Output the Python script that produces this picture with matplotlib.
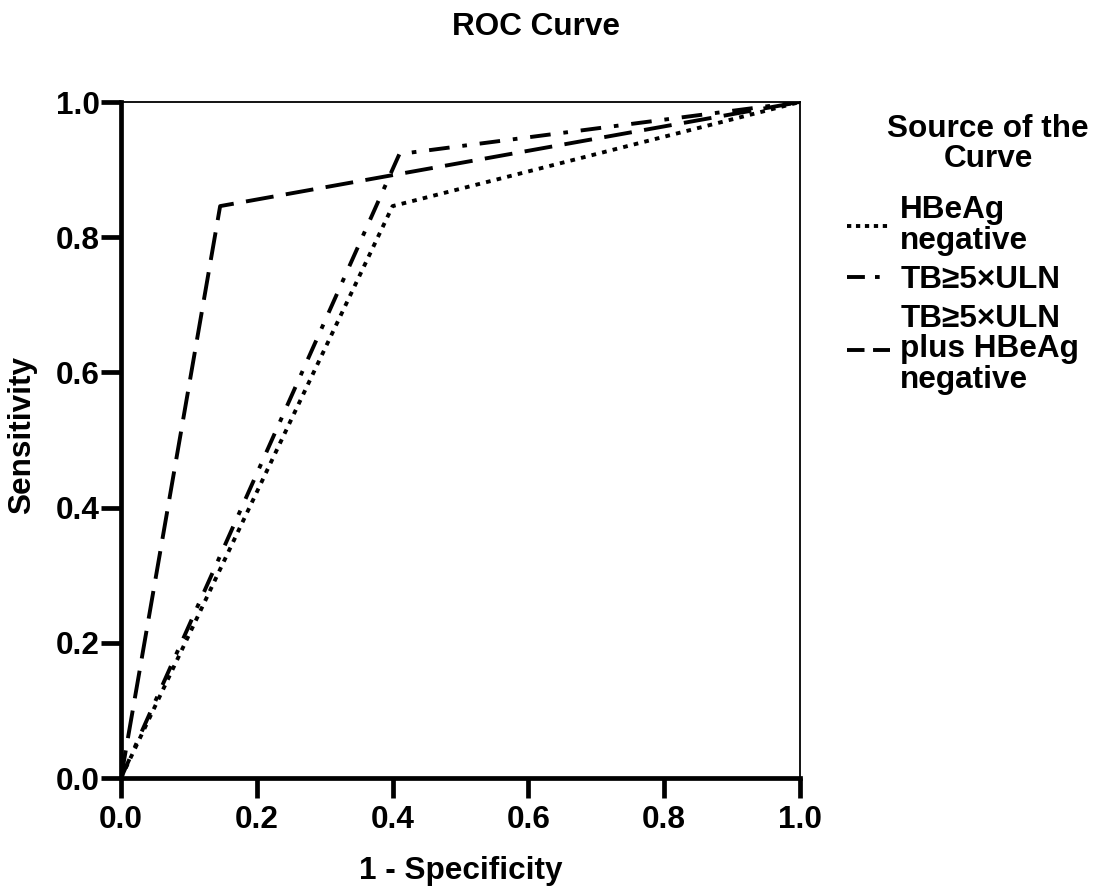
import matplotlib
matplotlib.use("Agg")
import matplotlib.pyplot as plt
from matplotlib.lines import Line2D

# Data
fpr_hbeag = [0.0, 0.400, 1.0]
tpr_hbeag = [0.0, 0.846, 1.0]
fpr_tb = [0.0, 0.410, 1.0]
tpr_tb = [0.0, 0.923, 1.0]
fpr_comb = [0.0, 0.146, 1.0]
tpr_comb = [0.0, 0.846, 1.0]
labels = ["HBeAg\nnegative", "TB\u22655\u00d7ULN", "TB\u22655\u00d7ULN\nplus HBeAg\nnegative"]
legend_title = "Source of the\nCurve"
ticks = [0.0, 0.2, 0.4, 0.6, 0.8, 1.0]
tick_labels = ["0.0", "0.2", "0.4", "0.6", "0.8", "1.0"]

plt.rcParams['font.family'] = ['Liberation Sans', 'DejaVu Sans']
FS = 22.7

fig = plt.figure(figsize=(11.06, 8.88), dpi=100)
ax = fig.add_axes([121/1106, 1-778/888, (800-121)/1106, (778-102)/888])

lw = 2.8
ax.plot(fpr_hbeag, tpr_hbeag, color='black', lw=lw, dashes=(1.2, 1.6),
        dash_capstyle='butt')
ax.plot(fpr_tb, tpr_tb, color='black', lw=lw, dashes=(5.3, 3.3, 1.2, 3.3),
        dash_capstyle='butt')
ax.plot(fpr_comb, tpr_comb, color='black', lw=lw, dashes=(7.2, 3.2),
        dash_capstyle='butt')

ax.set_xlim(0, 1)
ax.set_ylim(0, 1)
ax.set_xticks(ticks)
ax.set_xticklabels(tick_labels)
ax.set_yticks(ticks)
ax.set_yticklabels(tick_labels)

for s in ['left', 'bottom']:
    ax.spines[s].set_linewidth(3.4)
for s in ['top', 'right']:
    ax.spines[s].set_linewidth(1.3)

ax.tick_params(axis='both', direction='out', length=14.5, width=3.4, labelsize=FS)
ax.tick_params(axis='x', pad=5)
ax.tick_params(axis='y', pad=1)
for t in ax.get_xticklabels() + ax.get_yticklabels():
    t.set_fontweight('bold')

ax.set_xlabel("1 - Specificity", fontsize=FS, fontweight='bold', labelpad=15)
ax.set_ylabel("Sensitivity", fontsize=FS, fontweight='bold', labelpad=10)
ax.yaxis.set_label_coords(-0.123, 0.508)
fig.text(536/1106, 1-27/888, "ROC Curve", fontsize=FS, fontweight='bold',
         ha='center', va='center')

fig.text(988/1106, 1-114/888, legend_title, fontsize=FS, fontweight='bold',
         ha='center', va='top', multialignment='center', linespacing=0.98)

# legend proxy handles (short-handle versions of the curve styles)
h1 = Line2D([], [], color='black', lw=lw, dashes=(1.1, 1.2), dash_capstyle='butt')
h2 = Line2D([], [], color='black', lw=lw, dashes=(4.6, 2.6, 1.2, 3.0), dash_capstyle='butt')
h3 = Line2D([], [], color='black', lw=lw, dashes=(4.5, 2.2), dash_capstyle='butt')

leg = fig.legend(handles=[h1, h2, h3], labels=labels, loc='upper left',
                 bbox_to_anchor=(847/1106, 1-195/888), frameon=False,
                 fontsize=FS, handlelength=1.37, handletextpad=0.32,
                 labelspacing=0.28, borderaxespad=0, borderpad=0)
for t in leg.get_texts():
    t.set_fontweight('bold')
    t.set_linespacing(1.04)

fig.savefig("out.png", dpi=100)
